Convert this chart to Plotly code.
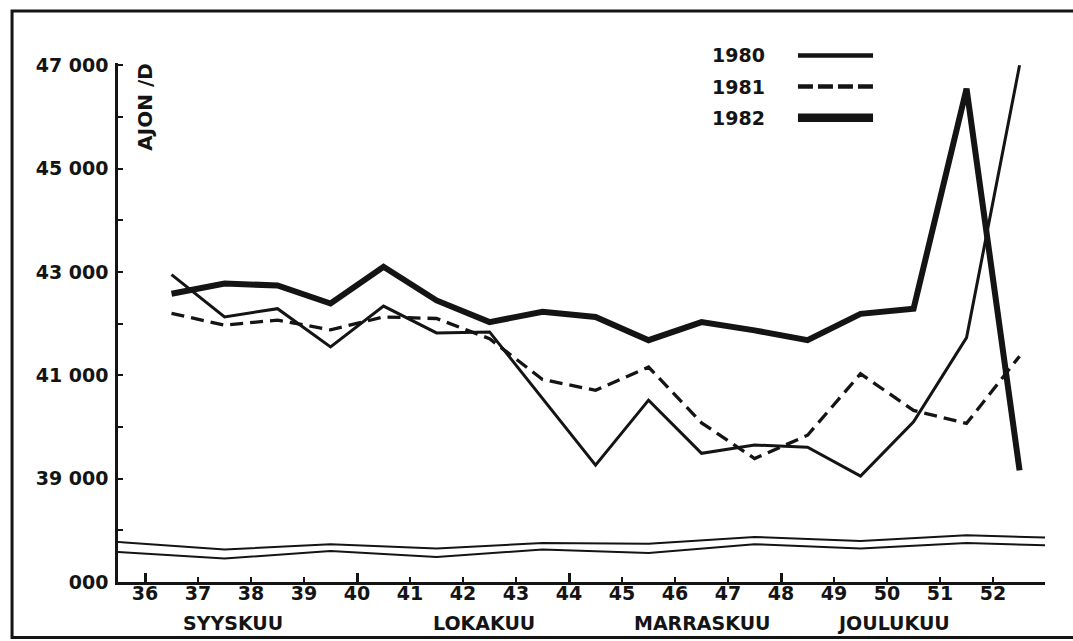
import plotly.graph_objects as go

# ---------------- data ----------------
weeks = [36.5, 37.5, 38.5, 39.5, 40.5, 41.5, 42.5, 43.5, 44.5,
         45.5, 46.5, 47.5, 48.5, 49.5, 50.5, 51.5, 52.5]

y1980 = [42950, 42130, 42290, 41550, 42340, 41820, 41840, 40560, 39260,
         40520, 39490, 39650, 39610, 39050, 40100, 41730, 47000]
y1981 = [42200, 41970, 42070, 41880, 42130, 42100, 41710, 40920, 40710,
         41160, 40080, 39390, 39840, 41030, 40320, 40070, 41370]
y1982 = [42580, 42775, 42740, 42390, 43100, 42450, 42030, 42230, 42130,
         41680, 42030, 41870, 41680, 42190, 42290, 46550, 39160]

week_ticks = [36, 37, 38, 39, 40, 41, 42, 43, 44, 45, 46, 47, 48, 49, 50, 51, 52]
week_labels = ["36", "37", "38", "39", "40", "41", "42", "43", "44",
               "45", "46", "47", "48", "49", "50", "51", "52"]
long_ticks = [36, 40, 44, 48]

y_ticks = [37000, 38000, 39000, 40000, 41000, 42000, 43000, 44000, 45000, 46000, 47000]
y_labels = ["000", "", "39\u00a0000", "", "41\u00a0000", "", "43\u00a0000", "",
            "45\u00a0000", "", "47\u00a0000"]

months = ["SYYSKUU", "LOKAKUU", "MARRASKUU", "JOULUKUU"]
month_pos = [37.66, 42.4, 46.52, 50.13]

# axis-break (wavy double line) values
break_x = [35.49, 37.5, 39.5, 41.5, 43.5, 45.5, 47.5, 49.5, 51.5, 52.98]
break_upper = [37774, 37627, 37730, 37646, 37754, 37741, 37871, 37794, 37904, 37859]
break_lower = [37581, 37453, 37600, 37484, 37627, 37562, 37731, 37646, 37754, 37710]

years = ["1980", "1981", "1982"]
y_title = "AJON /D"

# ---------------- style ----------------
INK = "#141414"
FONT = "DejaVu Sans"
X_MIN, X_MAX = 35.49, 52.98
Y_MIN, Y_MAX = 37000, 47045

fig = go.Figure()

fig.add_trace(go.Scatter(x=weeks, y=y1980, mode="lines", name=years[0],
                         line=dict(color=INK, width=3)))
fig.add_trace(go.Scatter(x=weeks, y=y1981, mode="lines", name=years[1],
                         line=dict(color=INK, width=3.3, dash="13px,7px")))
fig.add_trace(go.Scatter(x=weeks, y=y1982, mode="lines", name=years[2],
                         line=dict(color=INK, width=6)))

# axis-break lines (on overlay axis x2, same range)
fig.add_trace(go.Scatter(x=break_x, y=break_upper, mode="lines", xaxis="x2",
                         line=dict(color=INK, width=2), hoverinfo="skip"))
fig.add_trace(go.Scatter(x=break_x, y=break_lower, mode="lines", xaxis="x2",
                         line=dict(color=INK, width=2), hoverinfo="skip"))

tickfont = dict(family=FONT, size=19, color=INK, weight="bold")

fig.update_layout(
    width=1073, height=641,
    margin=dict(l=118, r=28, t=63, b=59, autoexpand=False),
    paper_bgcolor="white", plot_bgcolor="white",
    showlegend=False,
    font=dict(family=FONT, color=INK),
    xaxis=dict(range=[X_MIN, X_MAX], showgrid=False, zeroline=False,
               showline=True, linewidth=2.5, linecolor=INK,
               ticks="inside", ticklen=5, tickwidth=2, tickcolor=INK,
               tickmode="array", tickvals=week_ticks, ticktext=week_labels,
               tickfont=tickfont, ticklabelstandoff=-8,
               automargin=False, fixedrange=True),
    xaxis2=dict(range=[X_MIN, X_MAX], overlaying="x", anchor="y", side="bottom",
                showgrid=False, zeroline=False, showline=False,
                ticks="inside", ticklen=9, tickwidth=3, tickcolor=INK,
                tickmode="array", tickvals=long_ticks + [X_MAX],
                showticklabels=False, automargin=False, fixedrange=True),
    yaxis=dict(range=[Y_MIN, Y_MAX], showgrid=False, zeroline=False,
               showline=True, linewidth=2.5, linecolor=INK,
               ticks="inside", ticklen=5, tickwidth=2, tickcolor=INK,
               tickmode="array", tickvals=y_ticks, ticktext=y_labels,
               tickfont=tickfont, ticklabelstandoff=3,
               automargin=False, fixedrange=True),
)

# gap in the y axis line at the break
fig.add_shape(type="rect", xref="x", yref="y",
              x0=X_MIN - 0.1, x1=X_MIN + 0.08, y0=37610, y1=37745,
              fillcolor="white", line=dict(width=0), layer="above")

# outer frame
fig.add_shape(type="rect", xref="paper", yref="paper",
              x0=-0.1143, x1=1.045, y0=-0.107, y1=1.100,
              line=dict(color=INK, width=3), fillcolor="rgba(0,0,0,0)", layer="above")

# y axis title
fig.add_annotation(text=y_title, xref="paper", yref="paper", x=0.0297, y=0.915,
                   textangle=-90, showarrow=False, xanchor="center", yanchor="middle",
                   font=dict(family=FONT, size=20, color=INK, weight="bold"))

# month labels
for m, p in zip(months, month_pos):
    fig.add_annotation(text=m, xref="x", yref="paper", x=p, y=0, yanchor="top",
                       yshift=-28, showarrow=False,
                       font=dict(family=FONT, size=19, color=INK, weight="bold"))

# custom legend: text left, line sample right
leg_y = [1.0146, 0.9545, 0.8946]
leg_styles = [dict(width=4.5, dash="solid"),
              dict(width=4.5, dash="15px,5px"),
              dict(width=8.5, dash="solid")]
for yr, ly, st in zip(years, leg_y, leg_styles):
    fig.add_annotation(text=yr, xref="paper", yref="paper", x=0.700, y=ly,
                       xanchor="right", yanchor="middle", showarrow=False,
                       font=dict(family=FONT, size=19, color=INK, weight="bold"))
    fig.add_shape(type="line", xref="paper", yref="paper",
                  x0=0.7335, x1=0.8145, y0=ly, y1=ly,
                  line=dict(color=INK, width=st["width"], dash=st["dash"]))

fig.write_html(
    "out.html",
    config={"displayModeBar": False},
    post_script="document.body.style.margin='0';document.body.style.overflow='hidden';",
)
